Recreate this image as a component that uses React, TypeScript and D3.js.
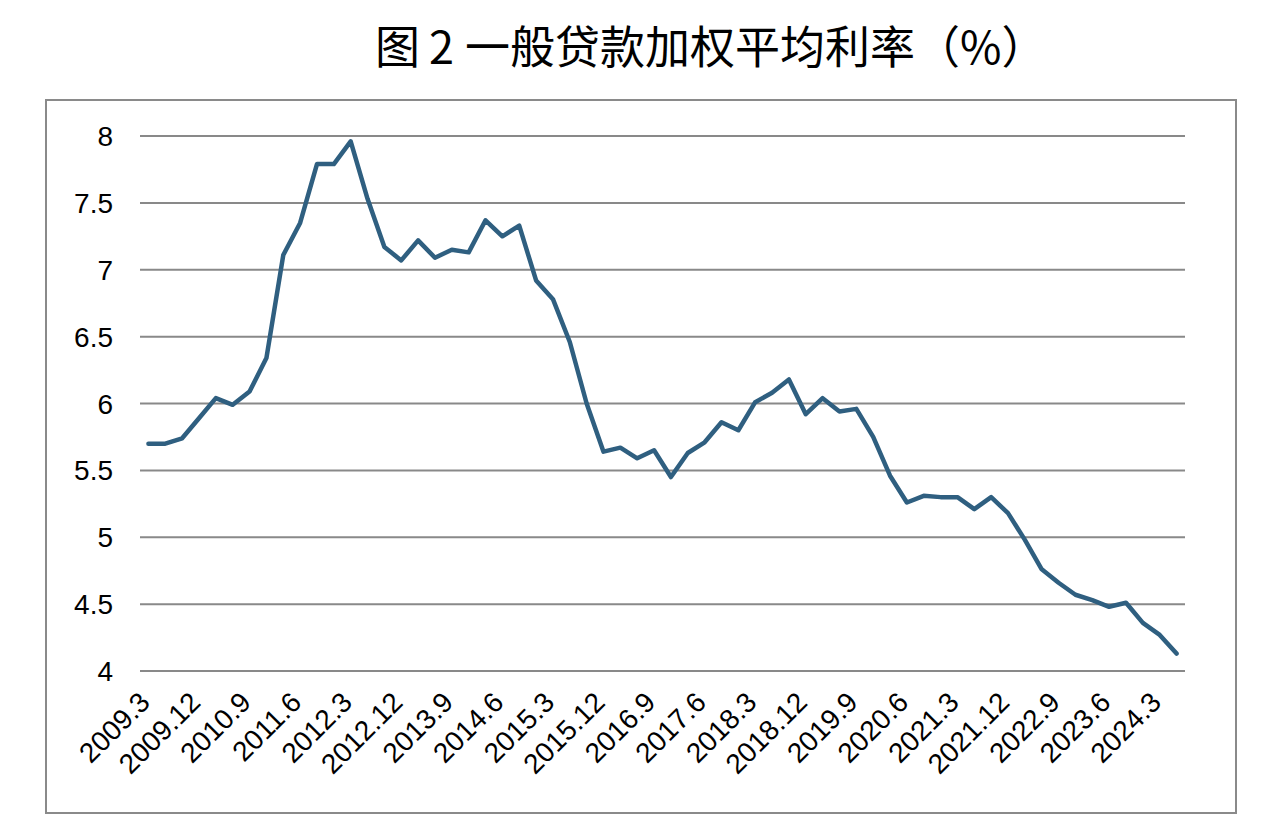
import React from "react";
import * as d3 from "d3";

const categories: string[] = [
  "2009.3", "2009.6", "2009.9", "2009.12",
  "2010.3", "2010.6", "2010.9", "2010.12",
  "2011.3", "2011.6", "2011.9", "2011.12",
  "2012.3", "2012.6", "2012.9", "2012.12",
  "2013.3", "2013.6", "2013.9", "2013.12",
  "2014.3", "2014.6", "2014.9", "2014.12",
  "2015.3", "2015.6", "2015.9", "2015.12",
  "2016.3", "2016.6", "2016.9", "2016.12",
  "2017.3", "2017.6", "2017.9", "2017.12",
  "2018.3", "2018.6", "2018.9", "2018.12",
  "2019.3", "2019.6", "2019.9", "2019.12",
  "2020.3", "2020.6", "2020.9", "2020.12",
  "2021.3", "2021.6", "2021.9", "2021.12",
  "2022.3", "2022.6", "2022.9", "2022.12",
  "2023.3", "2023.6", "2023.9", "2023.12",
  "2024.3", "2024.6",
];

const rates: number[] = [
  5.70, 5.70, 5.74, 5.89,
  6.04, 5.99, 6.09, 6.34,
  7.11, 7.35, 7.79, 7.79,
  7.96, 7.53, 7.17, 7.07,
  7.22, 7.09, 7.15, 7.13,
  7.37, 7.25, 7.33, 6.92,
  6.78, 6.46, 6.00, 5.64,
  5.67, 5.59, 5.65, 5.45,
  5.63, 5.71, 5.86, 5.80,
  6.01, 6.08, 6.18, 5.92,
  6.04, 5.94, 5.96, 5.75,
  5.46, 5.26, 5.31, 5.30,
  5.30, 5.21, 5.30, 5.18,
  4.98, 4.76, 4.66, 4.57,
  4.53, 4.48, 4.51, 4.36,
  4.27, 4.13,
];

const xTickLabels: string[] = [
  "2009.3", "2009.12", "2010.9", "2011.6", "2012.3", "2012.12", "2013.9",
  "2014.6", "2015.3", "2015.12", "2016.9", "2017.6", "2018.3", "2018.12",
  "2019.9", "2020.6", "2021.3", "2021.12", "2022.9", "2023.6", "2024.3",
];

const yTicks: number[] = [4, 4.5, 5, 5.5, 6, 6.5, 7, 7.5, 8];

const titleParts: string[] = ["图", "2", "一般贷款加权平均利率（%）"];

export default function App() {
  const W = 1266;
  const H = 836;
  const left = 140;
  const right = 1185;
  const top = 136;
  const bottom = 671;

  const x = d3.scalePoint<string>().domain(categories).range([left, right]).padding(0.5);
  const y = d3.scaleLinear().domain([4, 8]).range([bottom, top]);

  const line = d3
    .line<number>()
    .x((_, i) => x(categories[i]) as number)
    .y((d) => y(d));

  const font = "'Liberation Sans', Arial, sans-serif";
  const tFont = "'Noto Sans CJK SC', sans-serif";

  return (
    <svg
      width={W}
      height={H}
      style={{ position: "absolute", left: 0, top: 0, background: "#fff" }}
    >
      <rect x={0} y={0} width={W} height={H} fill="#fff" />
      <rect x={46} y={100} width={1190} height={713} fill="none" stroke="#8a8a8a" strokeWidth={2} />
      <text y={64} fontFamily={tFont} fontSize={45} fill="#000">
        <tspan x={375}>{titleParts[0]}</tspan>
        <tspan x={429}>{titleParts[1]}</tspan>
        <tspan x={465}>{titleParts[2]}</tspan>
      </text>
      {yTicks.map((t) => (
        <g key={t}>
          <line x1={left} x2={right} y1={y(t)} y2={y(t)} stroke="#898989" strokeWidth={2} />
          <text
            x={113}
            y={y(t)}
            dy="0.36em"
            textAnchor="end"
            fontFamily={font}
            fontSize={28}
            fill="#000"
          >
            {String(t)}
          </text>
        </g>
      ))}
      {xTickLabels.map((lab) => {
        const px = x(lab) as number;
        return (
          <text
            key={lab}
            transform={`translate(${px + 3},${704}) rotate(-45)`}
            textAnchor="end"
            fontFamily={font}
            fontSize={28}
            fill="#000"
          >
            {lab}
          </text>
        );
      })}
      <path
        d={line(rates) as string}
        fill="none"
        stroke="#2f5f80"
        strokeWidth={4.5}
        strokeLinejoin="round"
        strokeLinecap="round"
      />
    </svg>
  );
}
